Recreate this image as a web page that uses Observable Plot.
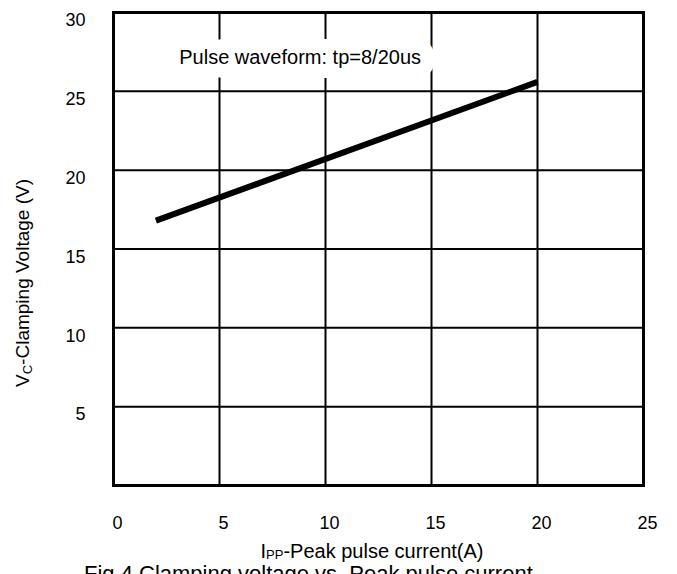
<!DOCTYPE html>
<html>
<head>
<meta charset="utf-8">
<script src="https://cdn.jsdelivr.net/npm/d3@7"></script>
<script src="https://cdn.jsdelivr.net/npm/@observablehq/plot@0.6"></script>
<style>
  html, body { margin: 0; padding: 0; background: #fff; overflow: hidden; }
  #wrap { width: 677px; height: 574px; overflow: hidden; position: relative; font-family: "Liberation Sans", Arial, sans-serif; }
  #caption { position: absolute; left: 84px; top: 563px; font-size: 22px; white-space: nowrap; color: #000; line-height: 22px; }
</style>
</head>
<body>
<div id="wrap"></div>
<script>
// Data
const current = [2, 20];            // Ipp (A)
const voltage = [16.8, 25.6];       // Vc (V)
const xTicks = [0, 5, 10, 15, 20, 25];
const yTicks = [5, 10, 15, 20, 25, 30];
const xGrid = [5, 10, 15, 20];
const yGrid = [5, 10, 15, 20, 25];
const noteText = ["Pulse waveform: tp=8/20us"];
const noteX = [3.1];
const noteY = [27.15];

const line = current.map((c, i) => ({c, v: voltage[i]}));
const note = noteText.map((t, i) => ({t, x: noteX[i], y: noteY[i]}));

const W = 677, H = 560;
const chart = Plot.plot({
  width: W,
  height: H,
  marginLeft: 113,
  marginRight: 34,
  marginTop: 12,
  marginBottom: 75,
  style: {fontFamily: '"Liberation Sans", Arial, sans-serif', background: "white", color: "black", overflow: "visible"},
  x: {domain: [0, 25], label: null},
  y: {domain: [0, 30], label: null},
  marks: [
    Plot.ruleX(xGrid, {stroke: "black", strokeWidth: 2}),
    Plot.ruleY(yGrid, {stroke: "black", strokeWidth: 2}),
    Plot.frame({stroke: "black", strokeWidth: 3}),
    Plot.text(note, {x: "x", y: "y", text: "t", textAnchor: "start", fontSize: 20, fill: "black",
      stroke: "white", strokeWidth: 28, strokeLinejoin: "round"}),
    Plot.line(line, {x: "c", y: "v", stroke: "black", strokeWidth: 6, strokeLinecap: "butt"}),
    Plot.axisX(xTicks, {tickSize: 0, tickPadding: 31, fontSize: 18, dx: 4, label: null}),
    Plot.axisY(yTicks, {tickSize: 0, tickPadding: 28, fontSize: 18, dy: 8, label: null})
  ]
});

const svg = d3.select(chart);
// Y axis title with subscript
const yt = svg.append("text")
  .attr("transform", "translate(29,283) rotate(-90)")
  .attr("text-anchor", "middle")
  .attr("font-size", 19)
  .attr("fill", "black")
  .style("font-family", '"Liberation Sans", Arial, sans-serif');
yt.append("tspan").text("V");
yt.append("tspan").attr("font-size", 13).attr("dy", 3).text("C");
yt.append("tspan").attr("dy", -3).text("-Clamping Voltage (V)");

// X axis title with subscript
const xt = svg.append("text")
  .attr("x", 372)
  .attr("y", 558)
  .attr("text-anchor", "middle")
  .attr("font-size", 20)
  .attr("fill", "black")
  .style("font-family", '"Liberation Sans", Arial, sans-serif');
xt.append("tspan").text("I");
xt.append("tspan").attr("font-size", 13).attr("dy", 1).text("PP");
xt.append("tspan").attr("dy", -1).text("-Peak pulse current(A)");

const wrap = document.getElementById("wrap");
wrap.appendChild(chart);
const cap = document.createElement("div");
cap.id = "caption";
cap.textContent = "Fig.4 Clamping voltage vs. Peak pulse current";
wrap.appendChild(cap);
</script>
</body>
</html>
